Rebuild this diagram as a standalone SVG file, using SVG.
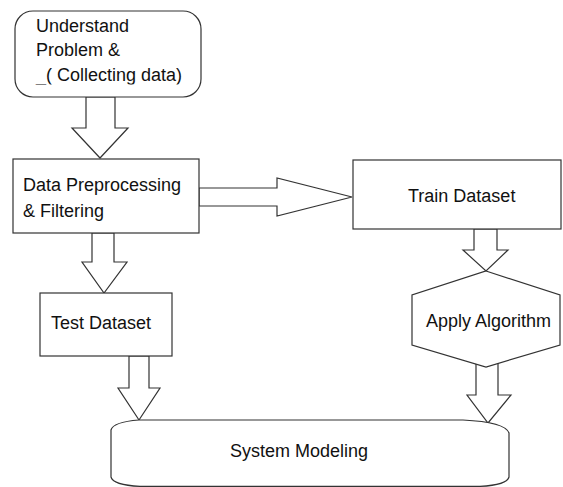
<svg xmlns="http://www.w3.org/2000/svg" width="563" height="487" viewBox="0 0 563 487">
  <style>
    .shape { fill: #ffffff; stroke: #333333; stroke-width: 1.2; stroke-linejoin: miter; }
    .arrow { fill: #ffffff; stroke: #333333; stroke-width: 1.2; stroke-linejoin: miter; }
    .label { font-family: "Liberation Sans", Arial, sans-serif; font-size: 18px; fill: #111111; }
  </style>
  <defs>
    <clipPath id="clip-problem-text">
      <rect x="15" y="10" width="186" height="74.6"/>
    </clipPath>
  </defs>

  <rect width="563" height="487" fill="#ffffff"/>

  <!-- block arrows between the steps -->
  <g id="connectors">
    <polygon class="arrow" points="86,97 115,97 115,128 128,128 100,158 72,128 86,128"/>
    <polygon class="arrow" points="199,188 277,188 277,178 352,197 277,216 277,206 199,206"/>
    <polygon class="arrow" points="92,233 114,233 114,262 127,262 104,293 82,262 92,262"/>
    <polygon class="arrow" points="474,229 497,229 497,250 508,250 486,271 463,250 474,250"/>
    <polygon class="arrow" points="129,356 149,356 149,388 160,388 139,420 118,388 129,388"/>
    <polygon class="arrow" points="476,362 498,362 498,395 511,395 488,423 467,395 476,395"/>
  </g>

  <g id="node-understand">
    <rect class="shape" x="15" y="11" width="186" height="86" rx="18" ry="18"/>
    <g clip-path="url(#clip-problem-text)">
      <text class="label" x="36" y="31.5">Understand</text>
      <text class="label" x="36" y="56">Problem &amp;</text>
      <text class="label" x="36" y="81">_( Collecting data)</text>
    </g>
  </g>

  <g id="node-preprocessing">
    <rect class="shape" x="13" y="159" width="186" height="74"/>
    <text class="label" x="23" y="191">Data Preprocessing</text>
    <text class="label" x="23" y="216.5">&amp; Filtering</text>
  </g>

  <g id="node-train">
    <rect class="shape" x="353" y="160" width="208" height="69"/>
    <text class="label" x="408" y="201.5">Train Dataset</text>
  </g>

  <g id="node-test">
    <rect class="shape" x="40" y="293" width="132" height="63"/>
    <text class="label" x="51" y="328.5">Test Dataset</text>
  </g>

  <g id="node-algorithm">
    <polygon class="shape" points="486,271 560,295 560,345 486,367 412,345 412,295"/>
    <text class="label" x="426" y="326.5">Apply Algorithm</text>
  </g>

  <g id="node-modeling">
    <path class="shape" d="M139,420 L463,420 Q505,422 509,433 L509,477 Q507,485 480,486.4 L140,486.4 Q113,485 111,477 L111,430 Q113,422 139,420 Z"/>
    <text class="label" x="230" y="457">System Modeling</text>
  </g>
</svg>
